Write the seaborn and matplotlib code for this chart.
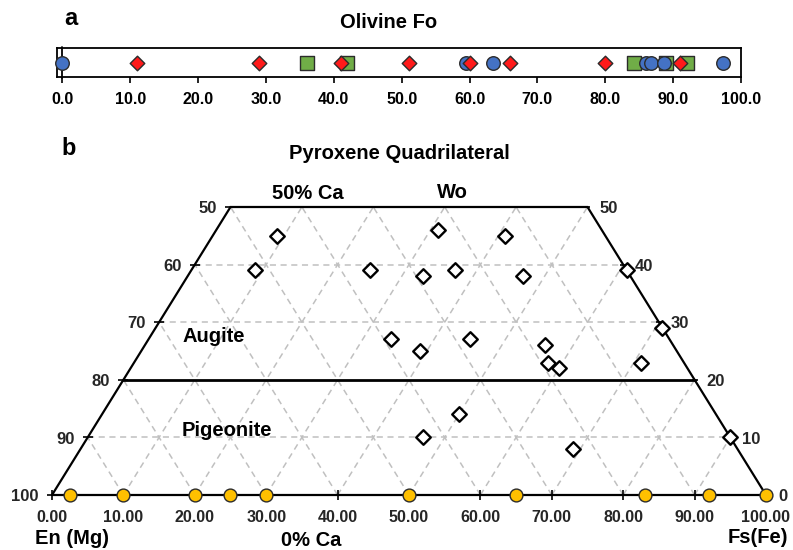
import numpy as np
import pandas as pd
import matplotlib
matplotlib.use("Agg")
import matplotlib.pyplot as plt
import seaborn as sns

# ---------------- data ----------------
# (a) Olivine Fo values
oliv_circles = [0.0, 59.5, 63.5, 86.0, 86.8, 88.6, 97.4]
oliv_diamonds = [11, 29, 41, 51, 60, 66, 80, 91]
oliv_squares = [36, 42, 84.3, 89, 92]
oliv_ticks = [0, 10, 20, 30, 40, 50, 60, 70, 80, 90, 100]

# (b) Pyroxene compositions: Wo and Fs (mol %)
px_wo = [45, 39, 46, 45, 39, 38, 39, 38, 39, 29, 27, 25, 27, 26, 23, 22, 23, 14, 10, 8, 10]
px_fs = [9, 9, 31, 41, 25, 33, 37, 47, 61, 71, 34, 39, 45, 56, 58, 60, 71, 50, 47, 69, 90]
# low-Ca points along the En-Fs join (Fs values, Wo = 0)
yellow_fs = [2.5, 10, 20, 25, 30, 50, 65, 83, 92, 100]
bottom_ticks = [0, 10, 20, 30, 40, 50, 60, 70, 80, 90, 100]
wo_levels = [50, 40, 30, 20, 10, 0]
left_labels = ["50", "60", "70", "80", "90", "100"]
right_labels = ["50", "40", "30", "20", "10", "0"]

# ---------------- style ----------------
sns.set_theme(style="white")
plt.rcParams['font.family'] = ['Liberation Sans', 'DejaVu Sans']
plt.rcParams['font.weight'] = 'bold'

W, H = 793, 550
fig = plt.figure(figsize=(W / 100, H / 100), dpi=100)


def rect(l, t, r, b):
    return [l / W, 1 - b / H, (r - l) / W, (b - t) / H]


def ftext(x, y, s, size, ha='center'):
    fig.text(x / W, 1 - y / H, s, fontsize=size, fontweight='bold',
             ha=ha, va='baseline', color='black')


# ---------------- (a) olivine strip ----------------
ax1 = fig.add_axes(rect(57, 48, 741, 77))
ax1.set_xlim(-0.8, 100)
ax1.set_ylim(-1, 1)
for sp in ax1.spines.values():
    sp.set_color('black')
    sp.set_linewidth(1.3)
ax1.set_yticks([])
ax1.set_xticks(oliv_ticks)
ax1.set_xticklabels([f"{v:.1f}" for v in oliv_ticks], fontweight='bold')
ax1.tick_params(axis='x', direction='out', length=4, width=1.2, bottom=True,
                labelsize=11.5, pad=7, colors='black')
ax1.axvline(0, ymin=-0.05, ymax=1.05, color='black', lw=1.3, clip_on=False)

sns.scatterplot(x=oliv_squares, y=[0] * len(oliv_squares), marker='s', s=105,
                color='#70AD47', edgecolor='#2b2b2b', linewidth=1.0, ax=ax1,
                zorder=3, clip_on=False, legend=False)
sns.scatterplot(x=oliv_circles, y=[0] * len(oliv_circles), marker='o', s=95,
                color='#4472C4', edgecolor='#2b2b2b', linewidth=1.0, ax=ax1,
                zorder=4, clip_on=False, legend=False)
sns.scatterplot(x=oliv_diamonds, y=[0] * len(oliv_diamonds), marker='D', s=55,
                color='#FF1A1A', edgecolor='#2b2b2b', linewidth=1.0, ax=ax1,
                zorder=5, clip_on=False, legend=False)

ftext(71, 25, "a", 17)
ftext(388.5, 27.5, "Olivine Fo", 14.5)

# ---------------- (b) pyroxene quadrilateral ----------------
ax2 = fig.add_axes(rect(52, 207, 766, 495))
ax2.set_xlim(0, 100)
ax2.set_ylim(0, 50)
ax2.axis('off')

grid_kw = dict(color='#C0C0C0', lw=1.1, ls=(0, (4, 3)), zorder=1)
for v in range(10, 100, 10):
    w = min(50, 100 - v)
    ax2.plot([v, v + w / 2], [0, w], **grid_kw)          # constant Fs
    ax2.plot([100 - v, 100 - v - w / 2], [0, w], **grid_kw)  # constant En
for wo in [10, 30, 40]:
    ax2.plot([wo / 2, 100 - wo / 2], [wo, wo], **grid_kw)

# outline
ax2.plot([0, 100, 75, 25, 0], [0, 0, 50, 50, 0], color='black', lw=1.6,
         clip_on=False, zorder=2, solid_joinstyle='miter')
ax2.plot([10, 90], [20, 20], color='black', lw=2.0, zorder=2)

# ticks
ax2.plot(bottom_ticks[:-1], [0] * (len(bottom_ticks) - 1), ls='none', marker='|',
         ms=7, mew=1.2, color='black', clip_on=False, zorder=2)
ax2.plot([w / 2 for w in wo_levels], wo_levels, ls='none', marker='_', ms=7,
         mew=1.2, color='black', clip_on=False, zorder=2)
ax2.plot([100 - w / 2 for w in wo_levels], wo_levels, ls='none', marker='_', ms=5,
         mew=1.2, color='black', clip_on=False, zorder=2)

for v in bottom_ticks:
    ax2.annotate(f"{v:.2f}", (v, 0), xytext=(0, -19.3), textcoords='offset points',
                 ha='center', va='baseline', fontsize=11.5, fontweight='bold',
                 annotation_clip=False)
for wo, lab in zip(wo_levels, left_labels):
    ax2.annotate(lab, (wo / 2, wo), xytext=(-9.6, -4.4), textcoords='offset points',
                 ha='right', va='baseline', fontsize=12, fontweight='bold',
                 annotation_clip=False)
for wo, lab in zip(wo_levels, right_labels):
    ax2.annotate(lab, (100 - wo / 2, wo), xytext=(8.6, -4.4), textcoords='offset points',
                 ha='left', va='baseline', fontsize=12, fontweight='bold',
                 annotation_clip=False)

# data points (ternary projection: x = Fs + Wo/2, y = Wo)
pyx = pd.DataFrame({'Wo': px_wo, 'Fs': px_fs})
pyx['x'] = pyx['Fs'] + pyx['Wo'] / 2
sns.scatterplot(data=pyx, x='x', y='Wo', marker='D', s=55, color='white',
                edgecolor='black', linewidth=1.7, ax=ax2, zorder=5,
                clip_on=False, legend=False)
sns.scatterplot(x=yellow_fs, y=[0] * len(yellow_fs), marker='o', s=85,
                color='#FFC000', edgecolor='#2b2b2b', linewidth=1.0, ax=ax2,
                zorder=6, clip_on=False, legend=False)
ax2.set_xlim(0, 100)
ax2.set_ylim(0, 50)

ftext(69, 155, "b", 17)
ftext(399, 159, "Pyroxene Quadrilateral", 14.5)
ftext(307.5, 199, "50% Ca", 14.5)
ftext(452.5, 198.5, "Wo", 14.5)
ftext(213.7, 341.5, "Augite", 14.5)
ftext(227, 436, "Pigeonite", 14.5)
ftext(71.7, 544, "En (Mg)", 14.5)
ftext(310.8, 546.5, "0% Ca", 14.5)
ftext(757.5, 543.3, "Fs(Fe)", 14.5)

fig.savefig("out.png", dpi=100, facecolor='white')
